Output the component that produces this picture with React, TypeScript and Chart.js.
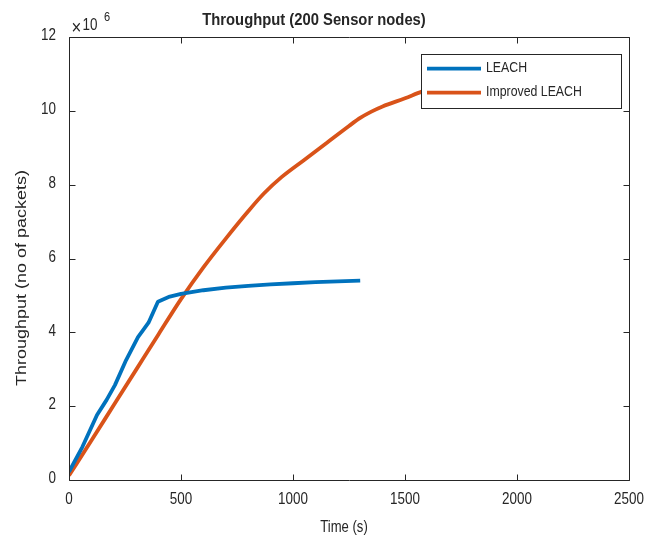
import React, { useEffect, useRef } from 'react';
import { Chart, registerables } from 'chart.js';

Chart.register(...registerables);

// ---- Data ----
const chartTitle = 'Throughput (200 Sensor nodes)';
const xAxisTitle = 'Time (s)';
const yAxisTitle = 'Throughput (no of packets)';
const seriesNames = ['LEACH', 'Improved LEACH'];

const leachTime = [0, 60, 125, 168, 205, 255, 308, 330, 355, 397, 450, 500, 600, 700, 800, 900, 1000, 1100, 1200, 1300];
const leachThroughput = [
  220000, 900000, 1760000, 2170000, 2570000, 3250000, 3870000, 4050000, 4260000, 4830000,
  4970000, 5040000, 5140000, 5210000, 5260000, 5300000, 5330000, 5360000, 5380000, 5400000,
];

const improvedTime = [0, 100, 200, 300, 400, 500, 600, 700, 800, 870, 950, 1050, 1150, 1250, 1300, 1350, 1400, 1500, 1575, 1700];
const improvedThroughput = [
  120000, 1070000, 2030000, 2990000, 3950000, 4900000, 5760000, 6540000, 7280000, 7760000,
  8210000, 8670000, 9130000, 9590000, 9810000, 9980000, 10120000, 10340000, 10520000, 10750000,
];

const xTicks = [0, 500, 1000, 1500, 2000, 2500];
const yTicks = [0, 2000000, 4000000, 6000000, 8000000, 10000000, 12000000];
const yTickLabels = ['0', '2', '4', '6', '8', '10', '12'];
const xTickLabels = ['0', '500', '1000', '1500', '2000', '2500'];

const colors = ['#0072BD', '#D95319'];
const axisColor = '#262626';
const FONT = "'Liberation Sans', Arial, Helvetica, sans-serif";

function sText(
  ctx: CanvasRenderingContext2D,
  text: string,
  x: number,
  y: number,
  font: string,
  sx: number,
  align: CanvasTextAlign,
  baseline: CanvasTextBaseline,
  rotate = false
) {
  ctx.save();
  ctx.translate(x, y);
  ctx.scale(sx, 1);
  if (rotate) ctx.rotate(-Math.PI / 2);
  ctx.font = font;
  ctx.fillStyle = axisColor;
  ctx.textAlign = align;
  ctx.textBaseline = baseline;
  ctx.fillText(text, 0, 0);
  ctx.restore();
}

const decorPlugin = {
  id: 'matlabDecor',
  beforeDatasetsDraw(chart: any) {
    const ctx: CanvasRenderingContext2D = chart.ctx;
    const { left, right, top, bottom } = chart.chartArea;
    ctx.save();
    ctx.fillStyle = '#ffffff';
    ctx.fillRect(left, top, right - left, bottom - top);
    ctx.restore();
  },
  afterDatasetsDraw(chart: any) {
    const ctx: CanvasRenderingContext2D = chart.ctx;
    const { left, right, top, bottom } = chart.chartArea;
    const xs = chart.scales.x;
    const ys = chart.scales.y;
    const L = Math.round(left) + 0.5;
    const R = Math.round(right) + 0.5;
    const T = Math.round(top) + 0.5;
    const B = Math.round(bottom) + 0.5;

    // box
    ctx.save();
    ctx.strokeStyle = axisColor;
    ctx.lineWidth = 1;
    ctx.beginPath();
    ctx.rect(L, T, R - L, B - T);
    ctx.stroke();

    const tl = 6;
    ctx.beginPath();
    xTicks.forEach((v) => {
      const px = Math.round(xs.getPixelForValue(v)) + 0.5;
      ctx.moveTo(px, B);
      ctx.lineTo(px, B - tl);
      ctx.moveTo(px, T);
      ctx.lineTo(px, T + tl);
    });
    yTicks.forEach((v) => {
      const py = Math.round(ys.getPixelForValue(v)) + 0.5;
      ctx.moveTo(L, py);
      ctx.lineTo(L + tl, py);
      ctx.moveTo(R, py);
      ctx.lineTo(R - tl, py);
    });
    ctx.stroke();
    ctx.restore();

    // legend
    const lx = 421.5, ly = 54.5, lw = 200, lh = 54;
    ctx.save();
    ctx.fillStyle = '#ffffff';
    ctx.fillRect(lx, ly, lw, lh);
    ctx.strokeStyle = axisColor;
    ctx.lineWidth = 1;
    ctx.strokeRect(lx, ly, lw, lh);
    const rows = [68.7, 92.7];
    seriesNames.forEach((name, i) => {
      ctx.strokeStyle = colors[i];
      ctx.lineWidth = 3.8;
      ctx.beginPath();
      ctx.moveTo(427, rows[i]);
      ctx.lineTo(481, rows[i]);
      ctx.stroke();
      sText(ctx, name, 486, rows[i] - 0.5, `14px ${FONT}`, 0.88, 'left', 'middle');
    });
    ctx.restore();

    // tick labels
    xTicks.forEach((v, i) => {
      const px = xs.getPixelForValue(v);
      sText(ctx, xTickLabels[i], px, 499, `17px ${FONT}`, 0.79, 'center', 'middle');
    });
    yTicks.forEach((v, i) => {
      const py = ys.getPixelForValue(v);
      sText(ctx, yTickLabels[i], 56, py - 1.5, `17px ${FONT}`, 0.79, 'right', 'middle');
    });

    // exponent
    sText(ctx, '\u00d7', 71.5, 28.5, `21px ${FONT}`, 0.8, 'left', 'middle');
    sText(ctx, '10', 82.5, 30, `17px ${FONT}`, 0.79, 'left', 'alphabetic');
    sText(ctx, '6', 104, 21, `13px ${FONT}`, 0.85, 'left', 'alphabetic');

    // titles
    sText(ctx, chartTitle, 314, 25, `bold 17px ${FONT}`, 0.87, 'center', 'alphabetic');
    sText(ctx, xAxisTitle, 344, 532, `17px ${FONT}`, 0.77, 'center', 'alphabetic');
    sText(ctx, yAxisTitle, 22, 278, `18px ${FONT}`, 0.8, 'center', 'middle', true);
  },
};

export default function App() {
  const canvasRef = useRef<HTMLCanvasElement | null>(null);

  useEffect(() => {
    document.body.style.margin = '0';
    const canvas = canvasRef.current;
    if (!canvas) return;
    const chart = new Chart(canvas, {
      type: 'line',
      data: {
        datasets: [
          {
            label: seriesNames[0],
            data: leachTime.map((t, i) => ({ x: t, y: leachThroughput[i] })),
            borderColor: colors[0],
            backgroundColor: colors[0],
            borderWidth: 3.8,
            pointRadius: 0,
            tension: 0,
            fill: false,
            borderJoinStyle: 'round',
            borderCapStyle: 'butt',
          },
          {
            label: seriesNames[1],
            data: improvedTime.map((t, i) => ({ x: t, y: improvedThroughput[i] })),
            borderColor: colors[1],
            backgroundColor: colors[1],
            borderWidth: 3.8,
            pointRadius: 0,
            cubicInterpolationMode: 'monotone',
            fill: false,
            borderJoinStyle: 'round',
            borderCapStyle: 'butt',
          },
        ],
      },
      options: {
        animation: false,
        responsive: false,
        maintainAspectRatio: false,
        devicePixelRatio: 1,
        layout: { padding: { left: 69, top: 37, right: 17, bottom: 60 } },
        scales: {
          x: { type: 'linear', min: 0, max: 2500, display: false },
          y: { type: 'linear', min: 0, max: 12000000, display: false },
        },
        plugins: {
          legend: { display: false },
          tooltip: { enabled: false },
          title: { display: false },
        },
      },
      plugins: [decorPlugin],
    } as any);
    return () => chart.destroy();
  }, []);

  return (
    <div style={{ width: 646, height: 540, background: '#ffffff' }}>
      <canvas ref={canvasRef} width={646} height={540} style={{ display: 'block' }} />
    </div>
  );
}
